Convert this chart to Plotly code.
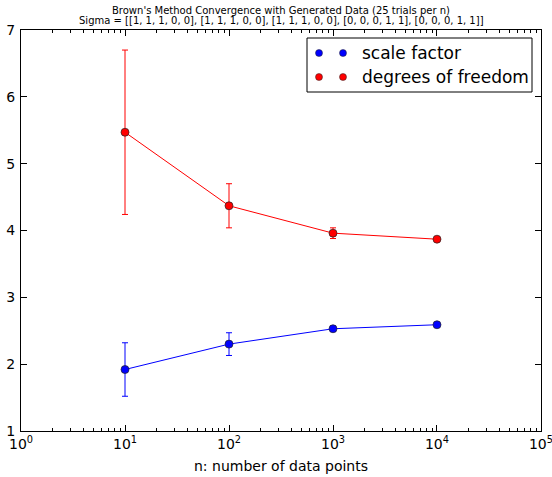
import plotly.graph_objects as go

n_points = [10, 100, 1000, 10000]
scale_factor = [1.92, 2.30, 2.53, 2.59]
scale_err = [0.40, 0.17, 0.04, 0.01]
dof = [5.47, 4.37, 3.96, 3.87]
dof_err = [1.23, 0.33, 0.08, 0.02]

series_names = ["scale factor", "degrees of freedom"]
series_colors = ["blue", "red"]

title_lines = ["Brown's Method Convergence with Generated Data (25 trials per n)",
               "Sigma = [[1, 1, 1, 0, 0], [1, 1, 1, 0, 0], [1, 1, 1, 0, 0], [0, 0, 0, 1, 1], [0, 0, 0, 1, 1]]"]
x_label = "n: number of data points"
x_tickvals = [1, 10, 100, 1000, 10000, 100000]
x_ticktext = ["10<sup>%d</sup>" % i for i in range(6)]
y_ticks = [1, 2, 3, 4, 5, 6, 7]

FONT = "DejaVu Sans"
W, H = 552, 477
ML, MR, MT, MB = 21, 11, 30, 46
PW, PH = W - ML - MR, H - MT - MB

def px_x(px):
    return (px - ML) / PW

def px_y(py):
    return (H - MB - py) / PH

fig = go.Figure()

for y, err, color, name in [(scale_factor, scale_err, series_colors[0], series_names[0]),
                            (dof, dof_err, series_colors[1], series_names[1])]:
    fig.add_trace(go.Scatter(
        x=n_points, y=y, mode="lines+markers", name=name, showlegend=False,
        line=dict(color=color, width=1),
        marker=dict(color=color, size=8, line=dict(color="#222", width=0.7)),
        error_y=dict(type="data", array=err, visible=True, color=color, thickness=1, width=3),
    ))

axis_common = dict(showline=True, linecolor="black", linewidth=1, mirror="allticks",
                   ticks="inside", tickcolor="black", ticklen=6, showgrid=False, zeroline=False,
                   automargin=False, ticklabeloverflow="allow",
                   tickfont=dict(family=FONT, size=14, color="black"))

shapes = [dict(type="rect", xref="paper", yref="paper", x0=px_x(307), x1=px_x(532),
               y0=px_y(92), y1=px_y(38), line=dict(color="black", width=1),
               fillcolor="white", layer="above")]
annotations = []
for i, (name, color) in enumerate(zip(series_names, series_colors)):
    row_y = px_y(53 + 24 * i)
    for dot_x in (319, 343):
        shapes.append(dict(type="circle", xref="paper", yref="paper", xsizemode="pixel",
                           ysizemode="pixel", xanchor=px_x(dot_x), yanchor=row_y,
                           x0=-3.5, x1=3.5, y0=-3.5, y1=3.5, fillcolor=color,
                           line=dict(color="#222", width=0.5), layer="above"))
    annotations.append(dict(text=name, xref="paper", yref="paper", x=px_x(360), y=row_y,
                            xanchor="left", yanchor="middle", showarrow=False,
                            font=dict(family=FONT, size=17, color="black")))

for i, line in enumerate(title_lines):
    annotations.append(dict(text=line, xref="paper", yref="paper", x=0.5, y=px_y(10 + 10 * i),
                            yanchor="middle", xanchor="center", showarrow=False,
                            font=dict(family=FONT, size=10, color="black")))

fig.update_layout(
    template="none",
    width=W, height=H,
    margin=dict(l=ML, r=MR, t=MT, b=MB, autoexpand=False),
    paper_bgcolor="white", plot_bgcolor="white",
    font=dict(family=FONT, color="black"),
    showlegend=False,
    xaxis=dict(type="log", range=[-0.0001, 5.0001], tickvals=x_tickvals, ticktext=x_ticktext,
               title=dict(text=x_label, font=dict(family=FONT, size=14, color="black"), standoff=10),
               minor=dict(ticks="inside", ticklen=3, tickcolor="black", dtick="D1"),
               **axis_common),
    yaxis=dict(range=[1, 7], tickvals=y_ticks, ticklabelstandoff=2, **axis_common),
    shapes=shapes,
    annotations=annotations,
)

fig.write_html("out.html", config={"displayModeBar": False},
               post_script="document.body.style.margin='0';document.body.style.overflow='hidden';")
